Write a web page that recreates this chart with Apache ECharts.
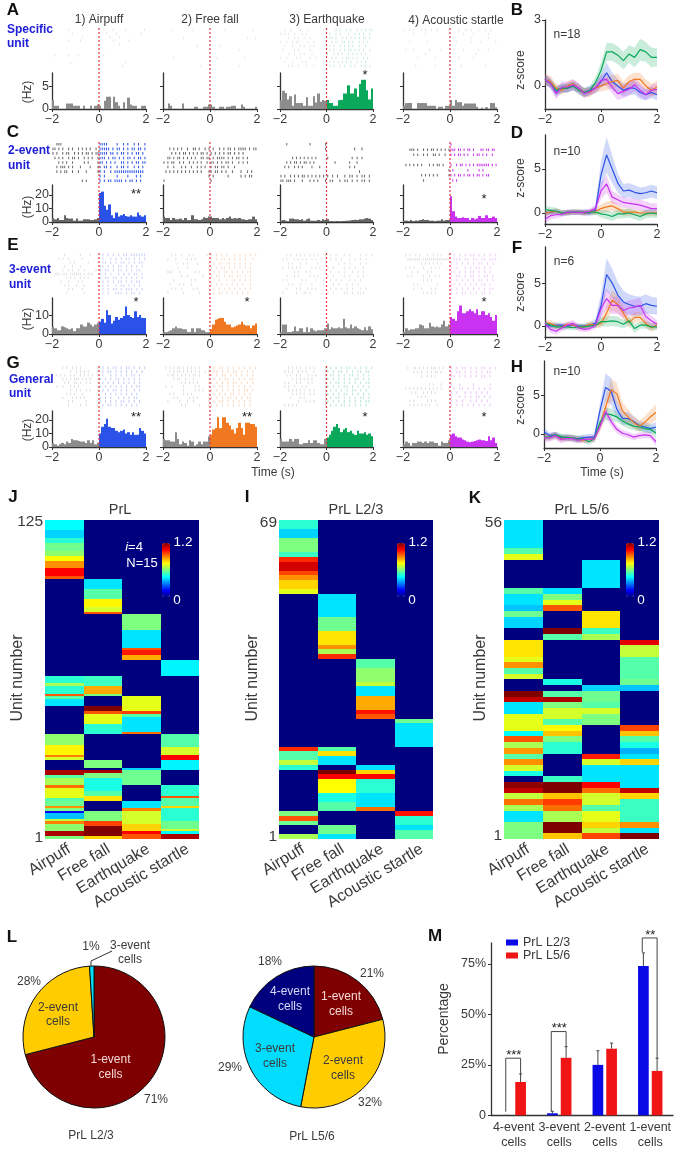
<!DOCTYPE html>
<html>
<head>
<meta charset="utf-8">
<style>html,body{margin:0;padding:0;background:#fff}</style>
<script src="https://cdn.jsdelivr.net/npm/echarts@6/dist/echarts.min.js"></script>
</head>
<body>
<div id="chart" style="width:679px;height:1151px"></div>
<script>
// firing rate per 0.1 s bin (Hz), -2 s to 2 s
const histA1 = [2,.7,.7,0,0,0,1.2,1.2,1.2,.7,.7,.7,0,.7,0,0,.7,0,.7,1, .7,0,1.8,2.7,2.7,0,2.7,1.5,.7,0,1.5,0,2.5,1,.7,.7,0,0,.7,.7];
const histA2 = [0,0,1.2,.7,0,0,0,0,1.2,0,0,0,0,.5,.5,0,0,.5,.5,1, 1,.5,0,0,.5,.5,0,.5,.5,.7,.7,0,0,1,.5,0,0,0,0,.5];
const histA3 = [1.9,4,3.5,2.1,2.8,.7,3.2,1.3,1.3,1.3,.7,2.6,.7,.7,2.8,1.4,3.4,1.6,2,1.8, 2,1.3,1.3,.7,.7,1.9,2,3.4,3.4,5.2,3.4,3.4,4.5,2.7,5.5,6.4,6.4,4.1,2.1,4.5];
const histA4 = [.7,1.3,1.3,1.3,0,0,1.3,1.3,1.3,1.3,.7,.7,.7,.7,0,.5,.5,0,.7,.7, 2,.7,2,1.5,1.5,.7,1.2,1.2,1.2,1.2,1.2,.5,0,.3,0,.4,0,1.3,1.3,.4];
const histC1 = [3,2,3,1.5,1.5,5,3,2.5,2.5,1,2.5,1,1,2,2,2,1.5,1.5,2,3, 21.5,22.5,12,9,13,5,3,7,4,5,6,4.5,4,5,4,4,7,5,4,5];
const histC2 = [4,3,3,1.5,3,2,2,2.5,1.5,3,1.5,1.5,5,2,2,1.5,2,3.5,3,4, 4,3,3,3,2,3,2,3,4,2.5,3,2.5,3,2,2,1.5,2,2,4,2];
const histC3 = [1,1.5,1,.5,2.5,2.5,2,2,1.5,2,1,2,2.5,1,1,1,1.5,1,2,1.5, 2,.5,.7,.5,.7,.5,.7,.7,1,1,1.3,1.5,1.6,1.5,2,2,2.5,3,2.5,1.5];
const histC4 = [1,1,.7,1.5,.7,1.2,1,1.5,2,1.5,1.5,1,1,.5,1,1,2,1,1.5,1.5, 19,8,4,3,3,3.5,3,3,1.5,3,2,2.5,4.5,3,3,5,3,3,4,3];
const histE1 = [4,3,2,2,4,3.5,3,2.5,3,1.5,3,3,5,4,4,6,5,4,5,6, 6.5,8,6,12.5,10,5.5,7,9,7.5,8.5,9.5,14.5,10,9,8.5,12,9,10,8.5,8.5];
const histE2 = [1,1,1.5,2,3,4,3,3,2.5,2.5,1,1,3,1,3,3,2,2,1,1, 2.5,5,7.5,8,8.5,8.5,6.5,5,5,3.5,4,4.5,5,6.5,5,4.5,4.5,3,4.5,5.5];
const histE3 = [1,5,5,1,1,1.5,4,1.5,3,3,1,3.5,1,3,2,1.5,2,2,2,3, 5.5,2.5,3.5,3,3,3.5,3,8,3.5,3,5,3,4,3,2.5,2,3.5,2,4,2.5];
const histE4 = [1,3,2,2.5,2.5,3,3,5,4.5,3,3,6,4,3.5,4,3.5,5,7,4,5, 9,8,7,12,15,11,11,12,13,12,11,13,10,12,12,10,11,9,7,10];
const histG1 = [3,2,1,2,3,2,4,3,6,5,5,4.5,4,4,3,5,3,5,2,3, 10,15,17,21,15,14,14,12,11,12,13,10,11,9,11,9,9,14,12,10];
const histG2 = [6,5,5,4,4,11,6,2,4,3,1,5,4,1,2,4,2,4,4,8, 9,13,14,22,14,22,22,18,16,13,10,14,18,14,9,18,18,17,17,15];
const histG3 = [6,4,4,4,6,4,6,6,2,2,3,3,5,3,5,5,3,2,2,6, 7,9,12,15,17,14,11,13,14,11,12,10,9,12,10,10,11,9,10,8];
const histG4 = [2,4,3,1,3,3,4,4,3,4,3,4,4,3,3,1,4,3,3,5, 9,10,8,7,7,5.5,5,4,3.5,4,4.5,5,5.5,5,5,4.5,8,5,7,3];

// spike rasters, one string per trial: 24 columns before the stimulus, the rest after it
const rasterA1 = ['........|................|..|...|.....|','..........|...............|..|.......|','...............|...........|..|','........|.....|.............|....|','..............................|','','.......................|','.|......|....|...........|','','.........|......................|','...............................|'];
const rasterA2 = ['....|..........|.............|.........|','','..........|..........................|..|','','.................|.........|','.......................|..........|','','.....|....................|.........|','','...................|..............|'];
const rasterA3 = ['..|..|....|...|.......|.....|.|..|.|..|.|.|.||','|.|.|..|...|.|.......|...|..|.|...|..|.|.|..|','....|..|.|..|..|.........||.|..|.|.|.|.|.||.|','|..|..|.||....|..|.....|..|.|..||.|.|..|.|.|','..|...|...|.|..|.|.......|.|..|.|.|.|..|..|','.|.....|.|.....|.........|.|..|.|.||.|.|.|..|','....|..|..|.|...|.......|..|.|.|..|.|.|.|.|','|..|....|.|....|..|.......|.|..|.||.|.|..|.|','..|...|....|.|........|..|.|.|.|.|.|..|.|.|','....|.|..|...|...|.......|.|..|.|..|.|..|.|.|'];
const rasterA4 = ['|..|.|...|.|..|..|.....|...|..|.|..|..|.|','.....|.....|...........|.....|...|.....|','.........................|......|......|','...|........|.............|.....|...|.....|','','.|...|.......|.....|.....|...|.....|...|','...........|...........|..........|','.......|........|..........|.....|','','......|.........|......|....|.........|'];
const rasterC1 = ['..|||...................||||....|..|.|..|.|..|','||.|.|..|.|..|.|.|.|..|.|||||.|.||.|.|.||.||.|','|.|..|.||..|.|.|.||.|.||||||.||.|.||.|.|.||.|','.|.|.|..|.||.|..|.|.|..||||.|.||.|.|.||.|.||.|','...|.|.|..|.....|.|....|||.|.|.|..||.|.|.||.||','..|.|||.|.|...|....|...||.||.|..|.||.|..|.|.|','..|.|.||..|..|...|.....||.|..|.||||||||||||||','........................|.|.....|....|...|.|.','...............|.|......|.|.||.||||.|.||.|.|'];
const rasterC2 = ['','...|.|.|.|..|..||.|..|.|.|..|.|.||.|.||||.|.||','....|.|.|.||.|.|.|.||.|.|.|.|.|.||.|.|.|..','..||.|.||.|.|.|.|..||.||.|.||||.|.|.||.|.|.','|.|.||..|.|..|.|.|.|..|.||.|.|.||.|..|.|.|','..|..|...|.|..|..|.|.|..|.||.||.|..|','.|.|.|.|.|.|.|.|.|.|...||.||.|.|..|...|..|.|','.......................|.|......|.....|.|.||','|.......................|'];
const rasterC3 = ['...|...........|.......|','.......................|...........|..|','','......|.|.|.|.|.|.|.....|.........|.|.|','...|.|.||.|.||.|.|.........|.....|..|.','..|.|..|.|.|....|...|............|.|','.....................................|','|.|..|.|.|.||.|.|.|.|.|.|.|.|..|.||.|.||.|','||.|||.|...|...|.|.|...|.||..|.||.|.|.||.|.'];
const rasterC4 = ['........................|','...|||.|..|.|.||.|.|.|.||||.||.|.||.|...||.||.||','.....|.|..|.|..||.|..|..|.|.||.|.|..|.||.|.|..|','','.|.|.|.|.|...|.|.||.|...|..|.||.|.|.|.|||||||.|.|','.......................|.|.......|.....|.|','.........|.|.|.|.|.....||.|.||.|.||.|.||.|.||','..........|..............|.|'];
const rasterE1 = ['......|.......|....|.....|.|.|.|.||.||||||','...|.|..|......|.......|.|..|.|.|.||.|.|.|','.........|.|......|....|.||.|.|.||.|.|.||','......|...|...|.........||.|.|.||.|.|.|.|','.....|..|.|..|..|.....|.|.||.|.||.|.|.||','.|||.|||.||||||.|.|||...|.|.|..|.|.|.||.|','.......|.|.|..|.|.|.....|.||.||.|.|.|.|.|','....|...|....|.|.......|.|.|.|.||.|.|.||','......|.|...|...|......|.|.|..|.||.|.|.|','........|.|....|.........|.|.||.|.|||.|.|','.......|........|........|.|..|||.|.||.|'];
const rasterE2 = ['....|.|..|...|.|......|.|.|.|.|..|.|.|.|.|','..|...|.....|.|.|......||.|.||.|.|.|.|..|','.......|..|.|....|.....|.|.||.||.|.|.|.|','.......|....|..........||.|.||.|.|.|.|.|','..|||...|.......|.|....|.|.|.||.|.|.|.||','.........|..|.......|...|.||.|.||.||.|.|','.....|........|.|......|.|.|..|.||.|.|.|','...|....|.|...|........||.|.|.|.|.|.|..|','....|.|..|.....|.|.....|.|.|.|.|.|.|.|.|','..|.......|.......|....|.|.||.|.|.|.|.|'];
const rasterE3 = ['...|.|..|.|.|..|.|.|...|.|.|..|.|...|.|.|','.|.|...|.|.|.|..|.|..|.|.|.|.|..|.|.|.|','....|.|...|..|.....|...|....|.|.|...|.|','.|..|.|.|.|.....|.|.|...|.|...|.|.|..|','.......|.|...|.|.......|.|..|.|..|.|.|','...|...|.|.....|.|.|....|.|...|.|..|.|','.|.|.......|.|....|...|..|.|.|..|.|.|','....|.|...|.....|.....|...|.|..|.|.|','...|....|.|...|.|.|......|.|.|.|.|..|.|','.|......|...||.|.....|..|.|...||.|.|||'];
const rasterE4 = ['.|.|..|.|...|..|.|.|...|.|.|.|.||.|.|.|.|','..|||||||.||||||||||||||.|||.||.||.||.|||','.........|.|.|.|.|.|....|.|.|.|.|.||.|.|','.|.|.|....|...|.|.|.....|.|..|.|.||.|.|','....|..|....|.|.........||.|.|.||.|.|.|','..|.|.....|..|..|.|.....|.||.|.||.|.||.|','..........|.|.|.........|.|.|.|.|.||.|.|','.....|.|.........|......||.|.|.|.|.||.|','.....|...|....|.|.......|.|.|.|.|.|.|.||','..........|.|.|.|.......|.|.||.|.|.||.|'];
const rasterG1 = ['.....|.|..|.|.|........|.|.|.||.|.||.|.|.|','.........|..|.|.|.|....|.|.||.|.|.|.|.|.|','..|.|.|..|.|..|.|.|.|..|.|..|.|.|.|.||.|','.....|.|.|.|||.|.|.|...||.|.|.||.|.|.|.|','......|.|..||.|..|.|...|.|.|.|.|.|.|.|.|','..|..|...|.|.|.........||.|.|.|.|.|.|.||','.........|..|.|..|.|...|.|.|.||.|.|..|.|','.......|.|.|...|.......|..|.|.|.|.|.|.|','.....|....|.|.|.|.......|.|.|..|.|.|.||','........|.|......|.....||.|.|.|.||.|.|.|','........|.....|..|.....|.|.||.|.|.|.|.|'];
const rasterG2 = ['.|.|.|.||.|.|.|.|.|....|.|.||.|.|.|.|.|.|','...|.|.||.|.|.|.|.|..|.|.||.|.|.||.|.|.|','..|.||.|.|.|.|.||.|....||.|.||.|.|.|.|.|','.....|.||..|...|.......|.|.|.||.|.|.|.||','.........|.|.|.|.|.....||.|.|.|.||.|.|.|','.|..|.....|.....|.|....|.|.||.|.|.|.|.|','..........|.....|.|.|..||.|.|.|.|.|.||.|','...|.|....|.|.|........|.|.|.|.||.|.|.|','.....|.|.....|.|.|.....||.|.|.||.|.|.||','..|.....|...|..|.......|.|.||.|.|.|.|.|','.........|.|......|....||.|.|.|.|.|.|.|'];
const rasterG3 = ['....|.|.|.|..|.|.|.....|.|.|.|.||.|.|.|.|','..|.|.|..|.|.|...|.....||.|.||.|.|.||.||','...|.|..|.|...|.|.|....|.||.|.|.||.|.|.|','......|.|.|.|.|.|......||.|.|.|.|.||.|.|','..|.|...|.|...|.|......|.|.||.|.|.|.|.||','..|.|..|...|.|.........||.|.|.||.|.|.|.|','....|.|.|.|.|..|.|.....|.|.|.|.|.||.|.|.','......|.|.|.|..|.|.....||.|.|.||.|.|.|.|','.....|....|.|..........|.|.||.|.|.|.||.|','.........|...|.|.|.....||.|.|.|.|.|.|.||','..|.|.|.|..............|.|.|.||.|.|.|.|'];
const rasterG4 = ['..|..||.|.|.|.|||.|.|...|.|.||.|.|.||.|.|','.....|.|.|..|.|.||.|....|.||.|.|.|.|.||','.........|..|.|.|.......||.|.|.|.|.||.|.','','.............|.|...|....|..|....|.....|.','.|.|.|.|.|.|.|.|.|.|...|.|.||.|.|.|.|.|.','....|.|...|.|.|.|.......|.|..|.|.|.|.|','.......|.|.|............|..|.|.|.||.|.|','...|.|......|.|.|.......|.|.|..|.|.|.|.','...|.|.|.|.|.|...|......|.|.|.|.|.|.|.|'];

// population z-score, -2 s to 2 s in 0.2 s steps
const zTime = [-2,-1.8,-1.6,-1.4,-1.2,-1,-.8,-.6,-.4,-.2,0,.2,.4,.6,.8,1,1.2,1.4,1.6,1.8,2];
const zBlueB = [.3,.1,-.3,-.1,-.1,0,-.1,-.3,-.2,-.1,.2,.6,.2,0,-.2,-.1,-.1,-.3,-.4,-.3,-.4];
const zOrangeB = [.3,.2,-.1,-.2,0,.1,-.1,-.3,-.3,-.1,0,.1,.2,.25,-.1,.2,.3,.3,0,-.2,-.05];
const zGreenB = [.3,.1,-.2,-.1,-.1,0,-.2,-.3,-.2,.15,.7,1.55,1.55,1.4,1.15,1.45,1.3,1.65,1.55,1.3,1.3];
const zPurpleB = [.3,.1,-.35,-.05,-.05,.05,-.1,-.35,-.25,-.1,.25,.3,-.05,-.35,-.25,-.15,.05,-.2,-.4,-.2,-.15];
const bandBlueB = [.2,.2,.2,.2,.2,.2,.2,.2,.2,.25,.3,.45,.4,.3,.3,.3,.3,.3,.25,.25,.25];
const bandOrangeB = [.25,.25,.2,.2,.2,.2,.2,.2,.2,.2,.25,.3,.3,.3,.3,.3,.3,.3,.3,.3,.3];
const bandGreenB = [.2,.2,.2,.2,.2,.2,.2,.2,.2,.25,.35,.4,.4,.4,.4,.4,.45,.5,.45,.45,.4];
const bandPurpleB = [.25,.25,.25,.25,.25,.25,.25,.2,.2,.2,.25,.3,.3,.3,.3,.3,.3,.3,.25,.25,.25];

const zBlueD = [0,.1,.2,0,0,.1,.1,0,0,.3,4.3,6.6,5,3.4,2.5,2.6,2.35,2.2,2.3,2.5,2.3];
const zOrangeD = [0,.1,.2,0,0,.1,.1,0,.1,.2,.5,.7,.8,.5,.1,.1,.1,0,0,0,0];
const zGreenD = [.4,.3,.2,0,.1,.1,.1,.1,.1,.1,-.1,-.2,-.4,-.1,-.1,0,-.2,-.4,-.1,0,-.1];
const zPurpleD = [-.7,-.3,-.2,-.15,.1,.1,.05,.1,.2,.5,2.5,3.3,1.8,1.5,1.2,1.1,1,.9,.7,.5,.5];
const bandBlueD = [.3,.3,.3,.3,.3,.3,.3,.3,.3,.5,1.6,2,1.6,1.1,.8,.8,.8,.7,.7,.7,.7];
const bandOrangeD = [.3,.3,.3,.3,.3,.3,.3,.3,.3,.4,.5,.6,.6,.5,.4,.4,.3,.3,.3,.3,.3];
const bandGreenD = [.4,.4,.4,.3,.3,.3,.3,.3,.3,.3,.4,.5,.5,.5,.5,.5,.5,.5,.5,.5,.5];
const bandPurpleD = [.5,.4,.4,.3,.3,.3,.3,.3,.3,.4,.9,1,.7,.6,.6,.6,.6,.6,.6,.6,.6];

const zBlueF = [.1,0,.1,.1,0,.1,0,0,.1,.3,2.3,6,5,3.6,2.8,2.5,2.3,2.3,2.6,2.4,2.3];
const zOrangeF = [.3,.3,0,-.1,.2,.1,-.1,-.1,.2,.1,.3,1.5,3,2.5,1.5,.4,1,1,.3,-.2,.1];
const zGreenF = [.3,.1,-.1,-.1,-.1,-.2,-.1,-.1,0,.1,.5,.5,.6,.5,.2,.6,-.3,.1,.1,-.1,-.1];
const zPurpleF = [.3,-.4,-.6,-.2,.1,.3,-.2,-.4,-.3,.1,2,3.2,2.4,2.4,1.8,2.1,2.2,2.4,1.1,.6,.2];
const bandBlueF = [.3,.3,.3,.3,.3,.3,.3,.3,.3,.5,1.4,1.9,1.7,1.5,1.3,1.2,1.2,1.1,1.1,1,1];
const bandOrangeF = [.4,.4,.4,.3,.3,.3,.3,.3,.4,.3,.5,1,1.2,1,.7,.6,.6,.6,.5,.5,.4];
const bandGreenF = [.3,.3,.3,.3,.3,.3,.3,.3,.3,.3,.5,.6,.6,.6,.5,.5,.5,.4,.4,.4,.4];
const bandPurpleF = [.4,.4,.4,.4,.4,.4,.4,.3,.3,.4,1,1.2,1,1,.9,.9,.9,.9,.7,.6,.5];

const zBlueH = [.3,-.2,-.1,-.5,-.4,-.5,-.6,-.5,-.4,-.4,3,6,5.5,3.2,2,2,1.6,1.1,.9,.7,.9];
const zOrangeH = [-.4,-.4,-.2,-.6,-.5,-.5,-.7,-.8,-.7,-.6,1,3.5,5.7,5.2,3,2.2,1.5,1,1.5,2.2,2.8];
const zGreenH = [-.4,-.4,-.1,-.3,-.5,-.5,-.7,-.6,-1,-.6,1.5,2.6,2.5,2.2,1.7,1.3,1,.9,.7,.6,.1];
const zPurpleH = [-.5,-.5,-.2,-.7,-.6,-.6,-.8,-.7,-.7,-.6,1,2.9,1.6,.6,.1,-.1,-.4,-.2,-.1,-.2,-1];
const bandBlueH = [.4,.4,.4,.4,.4,.4,.4,.4,.4,.4,1,1.8,1.7,1.2,.8,.8,.7,.6,.6,.6,.6];
const bandOrangeH = [.4,.4,.4,.4,.4,.4,.4,.4,.4,.4,.7,1.2,1.4,1.4,1.1,1,.8,.7,.8,.9,1];
const bandGreenH = [.4,.4,.4,.4,.4,.4,.4,.4,.4,.4,.6,.8,.8,.7,.6,.6,.5,.5,.5,.5,.5];
const bandPurpleH = [.5,.5,.5,.5,.4,.4,.4,.4,.4,.4,.6,.8,.6,.5,.4,.4,.4,.4,.4,.4,.5];

// heat map columns as [row count, value] runs, top row first
const heatNames = ['Airpuff','Free fall','Earthquake','Acoustic startle'];
const heatJ1 = [[4,.45],[3,.4],[2,.5],[3,.58],[2,.62],[2,.75],[3,.88],[3,1.05],[1,.95],[38,0],[3,.5],[1,.65],[3,.5],[1,.95],[1,.55],[3,.42],[11,0],[4,.62],[4,.76],[1,.9],[1,.7],[4,0],[2,1.15],[1,.55],[3,.65],[1,.92],[4,.72],[1,.55],[2,.58],[1,.88],[1,.6],[1,.15],[2,.38],[1,.68],[1,.9],[3,.62],[2,1.15],[1,.6]];
const heatJ2 = [[23,0],[4,.42],[4,.55],[3,.76],[2,.7],[1,.95],[24,0],[4,.52],[3,.85],[1,.6],[4,0],[2,1.2],[1,.95],[4,.72],[4,.5],[10,0],[3,.6],[1,0],[1,1.15],[2,.6],[5,.48],[2,.55],[2,.78],[4,0],[4,.6],[2,.97],[4,1.2],[1,.8]];
const heatJ3 = [[37,0],[6,.6],[7,.42],[1,.95],[2,1.02],[2,.85],[14,0],[6,.72],[1,.98],[1,.55],[6,.42],[1,.92],[13,0],[1,.4],[6,.58],[6,0],[3,.42],[1,.9],[5,.7],[3,.8],[1,1.05],[2,.95]];
const heatJ4 = [[55,0],[6,.44],[23,0],[5,.55],[3,.7],[2,1.05],[4,.44],[6,0],[4,.5],[1,.95],[3,.55],[1,.8],[5,.5],[3,.58],[1,.7],[1,.45],[2,1.15]];
const heatI1 = [[2,.5],[2,.4],[3,.6],[1,.52],[1,1],[2,1.1],[1,.97],[1,.88],[2,.8],[1,.72],[33,0],[1,1],[2,.55],[1,.68],[1,.5],[9,0],[1,.6],[1,.95],[1,.58],[2,0],[1,.65]];
const heatI2 = [[16,0],[5,.42],[3,.58],[3,.78],[1,.88],[1,.65],[1,1],[19,0],[1,.55],[1,.78],[2,.42],[1,0],[1,1.2],[1,1.05],[3,.75],[2,.48],[2,.55],[3,0],[2,.58],[1,.42]];
const heatI3 = [[30,0],[2,.55],[3,.62],[1,.68],[2,.42],[3,.85],[1,1.03],[1,.95],[10,0],[1,.42],[1,.8],[1,1.05],[3,.5],[3,.42],[1,.92],[6,0]];
const heatI4 = [[43,0],[1,.58],[5,.42],[14,0],[1,1.03],[2,.5],[1,.42],[2,.55]];
const heatK1 = [[5,.42],[1,.55],[1,.72],[5,0],[1,.55],[2,.42],[1,.38],[1,.58],[2,.4],[2,0],[3,.78],[1,.72],[1,.88],[1,.55],[1,.7],[2,0],[1,1.2],[1,1.12],[2,.42],[3,.72],[1,.45],[1,.95],[1,.65],[1,.87],[1,.55],[1,.88],[1,.7],[1,.48],[1,0],[1,1.18],[1,1.12],[1,.68],[1,.92],[1,.65],[2,.42],[3,.6]];
const heatK2 = [[12,0],[1,.42],[1,.6],[1,.72],[1,.95],[3,0],[1,1.2],[1,.55],[7,0],[1,.48],[1,0],[1,.55],[1,1.15],[1,.6],[2,.7],[1,.55],[1,.75],[1,.82],[1,.6],[2,.5],[4,0],[1,.52],[2,1.2],[1,.82],[1,.98],[1,.92],[2,.65],[2,1.2],[1,.82]];
const heatK3 = [[7,0],[5,.42],[4,0],[3,.78],[1,.52],[1,.65],[8,0],[1,.4],[2,.58],[1,.55],[1,.7],[2,.6],[5,0],[1,1.02],[1,.7],[3,.42],[1,1.05],[1,.92],[2,.7],[1,.55],[2,.72],[1,.8],[1,.68],[1,.97]];
const heatK4 = [[21,0],[1,1.08],[2,.68],[4,.55],[1,.58],[1,.38],[6,0],[1,.97],[1,.82],[1,.55],[1,.48],[1,.36],[1,.42],[1,.8],[4,.42],[1,1.12],[1,.8],[4,.52],[1,.88],[1,.42],[1,1.2]];

// cell type shares and group means
const pieNames23 = ['1-event cells','2-event cells','3-event cells'];
const pieValues23 = [71,28,1];
const pieNames56 = ['1-event cells','2-event cells','3-event cells','4-event cells'];
const pieValues56 = [21,32,29,18];
const barCats = ['4-event\ncells','3-event\ncells','2-event\ncells','1-event\ncells'];
const barL23 = [0,1,25,74];
const barL56 = [16.5,28.5,33,22];
const errL23 = [null,2,32,80.5];
const errL56 = [20.5,34,35.8,28.3];
const sigCats = [0,1,3];
const sigTop = [28.3,41.5,87.9];
const sigLeft = [1.8,1.8,81];
const sigRight = [20.5,34,28.3];
const sigStars = ['***','***','**'];

const FONT = 'Liberation Sans';
const TXT = '#3a3a3a';
const BLUE = '#2a52e8', ORANGE = '#f07820', GREEN = '#0aa85a', PURPLE = '#c832f0';
const JET = ['#00007f','#0000ff','#007fff','#00ffff','#7fff7f','#ffff00','#ff7f00','#ff0000','#7f0000'];

const grid = [], xAxis = [], yAxis = [], series = [], visualMap = [], graphic = [];

function txt(x, y, text, o) {
  o = o || {};
  graphic.push({
    type: 'text', z: 100, x: x, y: y, rotation: o.rot || 0, silent: true,
    style: {
      text: text, fill: o.fill || TXT, textAlign: o.align || 'center', textVerticalAlign: 'middle',
      font: (o.weight || 'normal') + ' ' + (o.size || 12) + 'px "' + FONT + '"', rich: o.rich
    }
  });
}

function minusLabel(v) {
  return String(v).replace('-', '\u2212');
}

function addAxes(left, right, top, bottom, x, y) {
  const i = grid.length;
  grid.push({ left: left, top: top, width: right - left, height: bottom - top });
  xAxis.push(Object.assign({ gridIndex: i }, x));
  yAxis.push(Object.assign({ gridIndex: i }, y));
  return i;
}

const axisLine = { show: true, onZero: false, lineStyle: { color: '#333', width: 1.3 } };
const axisTick = { show: true, length: 3, lineStyle: { color: '#333', width: 1 } };
const timeAxis = {
  type: 'value', min: -2, max: 2, interval: 2, splitLine: { show: false }, axisLine: axisLine, axisTick: axisTick,
  axisLabel: { fontFamily: FONT, fontSize: 12.5, color: TXT, margin: 4, hideOverlap: false, formatter: minusLabel }
};
const hiddenAxis = { show: false, splitLine: { show: false } };

// rows and columns of the raster / PSTH block
const colX = [[52,146],[163,257],[280,373],[403,497]];
const rowBlocks = [
  { rt: 28, rb: 68, ht: 73, hb: 109, ymax: 7.9, ticks: [0,5],
    hist: [histA1,histA2,histA3,histA4], raster: [rasterA1,rasterA2,rasterA3,rasterA4], post: [null,null,GREEN,null], gray: '#8c8c8c', fade: .22 },
  { rt: 142, rb: 183, ht: 185, hb: 222, ymax: 27.4, ticks: [0,10,20],
    hist: [histC1,histC2,histC3,histC4], raster: [rasterC1,rasterC2,rasterC3,rasterC4], post: [BLUE,null,null,PURPLE], gray: '#666', fade: 1 },
  { rt: 253, rb: 295, ht: 298, hb: 334, ymax: 19, ticks: [0,10],
    hist: [histE1,histE2,histE3,histE4], raster: [rasterE1,rasterE2,rasterE3,rasterE4], post: [BLUE,ORANGE,null,PURPLE], gray: '#8c8c8c', fade: .26 },
  { rt: 366, rb: 407, ht: 411, hb: 447, ymax: 26.7, ticks: [0,10,20],
    hist: [histG1,histG2,histG3,histG4], raster: [rasterG1,rasterG2,rasterG3,rasterG4], post: [BLUE,ORANGE,GREEN,PURPLE], gray: '#8c8c8c', fade: .3 }
];

function renderBin(params, api) {
  const a = api.coord([api.value(0), api.value(2)]);
  const b = api.coord([api.value(1), 0]);
  const x0 = Math.round(a[0]), x1 = Math.round(b[0]);
  return {
    type: 'rect', shape: { x: x0, y: a[1], width: x1 - x0, height: b[1] - a[1] },
    style: { fill: api.value(0) < -.001 ? params.context.gray : params.context.post }
  };
}

rowBlocks.forEach(function (row) {
  colX.forEach(function (cx, c) {
    const post = row.post[c] || row.gray;
    const gray = row.gray;
    // spikes and stimulus line share one grid running down to the PSTH baseline
    const rows = row.raster[c];
    const n = 12;
    const top = n * (row.hb - row.rt) / (row.rb - row.rt);
    const g1 = addAxes(cx[0], cx[1], row.rt, row.hb,
      Object.assign({}, hiddenAxis, { type: 'value', min: -2, max: 2 }),
      Object.assign({}, hiddenAxis, { type: 'value', min: 0, max: top, inverse: true }));
    const spikes = [];
    const longest = Math.max.apply(null, rows.map(function (s) { return s.length; }));
    rows.forEach(function (s, r) {
      const step = n / rows.length;
      for (let k = 0; k < s.length; k++) {
        if (s[k] !== '|') continue;
        const t = k < 24 ? -2 + (k + .5) / 12 : (k - 24 + .5) * 2 / (longest - 24);
        spikes.push([t, (r + .5) * step]);
      }
    });
    series.push({
      type: 'scatter', xAxisIndex: g1, yAxisIndex: g1, data: spikes, symbol: 'rect', symbolSize: [1, 2.6], silent: true,
      itemStyle: { opacity: row.fade, color: function (p) { return p.value[0] < 0 ? gray : post; } }
    });
    const g2 = addAxes(cx[0], cx[1], row.ht, row.hb,
      Object.assign({}, timeAxis),
      {
        type: 'value', min: 0, max: row.ymax, splitLine: { show: false }, axisLine: axisLine,
        axisTick: Object.assign({}, axisTick, { customValues: row.ticks }),
        axisLabel: { show: c === 0, customValues: row.ticks, fontFamily: FONT, fontSize: 12.5, color: TXT, margin: 3 }
      });
    const bins = row.hist[c].map(function (v, i) { return [-2 + i * .1, -1.9 + i * .1, v]; });
    series.push({
      type: 'custom', xAxisIndex: g2, yAxisIndex: g2, data: bins, silent: true, encode: { x: [0, 1], y: 2 },
      renderItem: function (params, api) {
        params.context.gray = gray;
        params.context.post = post;
        return renderBin(params, api);
      }
    });
    series.push({
      type: 'line', xAxisIndex: g1, yAxisIndex: g1, data: [[0,0],[0,top]], symbol: 'none', silent: true, z: 5,
      lineStyle: { color: '#e8343a', width: 1.2, type: [2,2] }
    });
  });
});

// z-score panels
function bandSeries(g, mean, half, color) {
  series.push({
    type: 'custom', xAxisIndex: g, yAxisIndex: g, silent: true,
    data: zTime.map(function (t, i) { return [t, mean[i] - half[i], mean[i] + half[i]]; }),
    encode: { x: 0, y: [1, 2] },
    renderItem: function (params, api) {
      if (params.dataIndex !== 0) return null;
      const up = [], down = [];
      zTime.forEach(function (t, i) {
        up.push(api.coord([t, mean[i] + half[i]]));
        down.unshift(api.coord([t, mean[i] - half[i]]));
      });
      return { type: 'polygon', shape: { points: up.concat(down) }, style: { fill: color, opacity: .22 } };
    }
  });
  series.push({
    type: 'line', xAxisIndex: g, yAxisIndex: g, data: zTime.map(function (t, i) { return [t, mean[i]]; }),
    symbol: 'none', silent: true, lineStyle: { color: color, width: 1.2 }
  });
}

const zPanels = [
  { l: 545, r: 657, t: 20, b: 109, min: -1.05, max: 3, ticks: [0,3],
    m: [zBlueB,zOrangeB,zGreenB,zPurpleB], h: [bandBlueB,bandOrangeB,bandGreenB,bandPurpleB] },
  { l: 545, r: 657, t: 135, b: 224, min: -1.25, max: 8.86, ticks: [0,5],
    m: [zBlueD,zOrangeD,zGreenD,zPurpleD], h: [bandBlueD,bandOrangeD,bandGreenD,bandPurpleD] },
  { l: 545, r: 657, t: 247, b: 337, min: -1.28, max: 9.2, ticks: [0,5],
    m: [zBlueF,zOrangeF,zGreenF,zPurpleF], h: [bandBlueF,bandOrangeF,bandGreenF,bandPurpleF] },
  { l: 544, r: 656, t: 361, b: 448, min: -1.8, max: 9.4, ticks: [0,5],
    m: [zBlueH,zOrangeH,zGreenH,zPurpleH], h: [bandBlueH,bandOrangeH,bandGreenH,bandPurpleH] }
];
zPanels.forEach(function (p) {
  const g = addAxes(p.l, p.r, p.t, p.b, Object.assign({}, timeAxis), {
    type: 'value', min: p.min, max: p.max, splitLine: { show: false }, axisLine: axisLine,
    axisTick: Object.assign({}, axisTick, { customValues: p.ticks }),
    axisLabel: { customValues: p.ticks, fontFamily: FONT, fontSize: 12.5, color: TXT, margin: 4 }
  });
  [BLUE, ORANGE, GREEN, PURPLE].forEach(function (color, i) {
    bandSeries(g, p.m[i], p.h[i], color);
  });
});

// heat maps
function expandRuns(runs) {
  const out = [];
  runs.forEach(function (r) { for (let i = 0; i < r[0]; i++) out.push(r[1]); });
  return out;
}

const heatPanels = [
  { l: 45, r: 199, total: 125, cols: [heatJ1,heatJ2,heatJ3,heatJ4], bar: 162 },
  { l: 279, r: 433, total: 69, cols: [heatI1,heatI2,heatI3,heatI4], bar: 397 },
  { l: 504, r: 659, total: 56, cols: [heatK1,heatK2,heatK3,heatK4], bar: 626 }
];
heatPanels.forEach(function (p) {
  const labels = [];
  for (let i = p.total; i >= 1; i--) labels.push(String(i));
  const g = addAxes(p.l, p.r, 520, 839, {
    type: 'category', data: heatNames, axisLine: { show: false }, axisTick: { show: false }, axisLabel: { show: false }
  }, {
    type: 'category', data: labels, inverse: true, axisLine: { show: false }, axisTick: { show: false },
    axisLabel: {
      interval: function (i) { return i === 0 || i === p.total - 1; },
      fontFamily: FONT, fontSize: 15.5, color: TXT, margin: 2
    }
  });
  const cells = [];
  p.cols.forEach(function (runs, c) {
    expandRuns(runs).forEach(function (v, r) { cells.push([c, r, v]); });
  });
  series.push({
    type: 'custom', xAxisIndex: g, yAxisIndex: g, data: cells, silent: true, encode: { x: 0, y: 1 },
    renderItem: function (params, api) {
      const c = api.coord([api.value(0), api.value(1)]);
      const s = api.size([1, 1]);
      const x0 = Math.round(c[0] - s[0] / 2), x1 = Math.round(c[0] + s[0] / 2);
      const y0 = Math.round(c[1] - s[1] / 2), y1 = Math.round(c[1] + s[1] / 2);
      return { type: 'rect', shape: { x: x0, y: y0, width: x1 - x0, height: y1 - y0 }, style: { fill: api.visual('color') } };
    }
  });
  visualMap.push({
    type: 'continuous', min: 0, max: 1.2, dimension: 2, seriesIndex: series.length - 1, left: p.bar, top: 543, padding: 0,
    itemWidth: 8, itemHeight: 54, calculable: false, hoverLink: false, text: ['', ''],
    inRange: { color: JET }, textStyle: { fontSize: 1 }
  });
  txt(p.bar + 21, 542, '1.2', { fill: '#fff', size: 13.5 });
  txt(p.bar + 15, 600, '0', { fill: '#fff', size: 13.5 });
  const w = (p.r - p.l) / 4;
  heatNames.forEach(function (name, c) {
    txt(p.l + w * (c + .5) + 5 + c, 848, name, { size: 16, align: 'right', rot: 31 * Math.PI / 180 });
  });
});

// pies
function addPie(cx, cy, names, values, colors) {
  series.push({
    type: 'pie', center: [cx, cy], radius: 71, startAngle: 90, silent: true, label: { show: false }, labelLine: { show: false },
    data: names.map(function (n, i) {
      return { name: n, value: values[i], itemStyle: { color: colors[i], borderColor: '#111', borderWidth: 1 } };
    })
  });
}
addPie(94, 1037, pieNames23, pieValues23, ['#7f0000','#ffcc00','#00ddff']);
addPie(314, 1037, pieNames56, pieValues56, ['#7f0000','#ffcc00','#00ddff','#00007f']);

// grouped bars
const gM = addAxes(491, 673, 943, 1115.3, {
  type: 'category', data: barCats, axisLine: axisLine, axisTick: { show: false },
  axisLabel: { interval: 0, fontFamily: FONT, fontSize: 12.5, color: TXT, margin: 5, lineHeight: 15 }
}, {
  type: 'value', min: 0, max: 85.4, splitLine: { show: false }, axisLine: axisLine,
  axisTick: Object.assign({}, axisTick, { customValues: [0,25,50,75] }),
  axisLabel: {
    customValues: [0,25,50,75], fontFamily: FONT, fontSize: 12.5, color: TXT, margin: 5,
    formatter: function (v) { return v === 0 ? '0' : v + '%'; }
  }
});
series.push({ name: 'PrL L2/3', type: 'bar', xAxisIndex: gM, yAxisIndex: gM, data: barL23, barWidth: 10.7, barGap: '28%', silent: true, itemStyle: { color: '#0a0ae6' } });
series.push({ name: 'PrL L5/6', type: 'bar', xAxisIndex: gM, yAxisIndex: gM, data: barL56, barWidth: 10.7, silent: true, itemStyle: { color: '#f01414' } });

function errorSeries(tops, bars, shift) {
  series.push({
    type: 'custom', xAxisIndex: gM, yAxisIndex: gM, silent: true, z: 3,
    data: tops.map(function (v, i) { return [i, v === null ? bars[i] : v, bars[i]]; }),
    encode: { x: 0, y: 1 },
    renderItem: function (params, api) {
      const a = api.coord([api.value(0), api.value(1)]);
      const b = api.coord([api.value(0), api.value(2)]);
      const x = a[0] + shift;
      const ln = { stroke: '#444', lineWidth: 1 };
      return {
        type: 'group', children: [
          { type: 'line', shape: { x1: x, y1: a[1], x2: x, y2: b[1] }, style: ln },
          { type: 'line', shape: { x1: x - 1.5, y1: a[1], x2: x + 1.5, y2: a[1] }, style: ln }
        ]
      };
    }
  });
}
errorSeries(errL23, barL23, -6.85);
errorSeries(errL56, barL56, 6.85);

series.push({
  type: 'custom', xAxisIndex: gM, yAxisIndex: gM, silent: true, z: 4, clip: false,
  data: sigCats.map(function (c, i) { return [c, sigTop[i], sigLeft[i], sigRight[i], i]; }),
  encode: { x: 0, y: 1 },
  renderItem: function (params, api) {
    const c = api.value(0);
    const top = api.coord([c, api.value(1)]);
    const x1 = top[0] - 8, x2 = top[0] + 6.85;
    const yl = api.coord([c, api.value(2)])[1], yr = api.coord([c, api.value(3)])[1];
    return {
      type: 'group', children: [
        { type: 'polyline', shape: { points: [[x1, yl],[x1, top[1]],[x2, top[1]],[x2, yr]] }, style: { stroke: '#444', fill: 'none', lineWidth: 1 } },
        { type: 'text', style: { text: sigStars[api.value(4)], x: top[0], y: top[1] - 3, textAlign: 'center', textVerticalAlign: 'middle', fill: '#222', font: '13px "' + FONT + '"' } }
      ]
    };
  }
});

// panel letters
[['A',13,10],['C',13,132],['E',13,245],['G',13,363],['B',517,10],['D',517,133],['F',517,248],['H',517,367],['J',13,497],['I',247,497],['K',475,498],['L',12,937],['M',435,936]].forEach(function (a) {
  txt(a[1], a[2], a[0], { size: 17, weight: 'bold', fill: '#111' });
});
// unit classes
[['Specific',7,30],['unit',7,44],['2-event',8,151],['unit',8,166],['3-event',9,270],['unit',9,285],['General',9,380],['unit',9,394]].forEach(function (a) {
  txt(a[1], a[2], a[0], { size: 12, weight: 'bold', fill: '#2020d8', align: 'left' });
});
// column heads
txt(99, 20, '1) Airpuff');
txt(210, 20, '2) Free fall');
txt(327, 20, '3) Earthquake');
txt(456, 21, '4) Acoustic startle');
// axis names
[92, 207, 319, 430].forEach(function (y) { txt(28, y, '(Hz)', { rot: Math.PI / 2 }); });
[70, 178, 292, 405].forEach(function (y) { txt(521, y, 'z-score', { rot: Math.PI / 2 }); });
txt(273, 473, 'Time (s)');
txt(602, 473, 'Time (s)');
txt(18, 678, 'Unit number', { rot: Math.PI / 2, size: 16 });
txt(253, 678, 'Unit number', { rot: Math.PI / 2, size: 16 });
txt(481, 678, 'Unit number', { rot: Math.PI / 2, size: 16 });
txt(444, 1019, 'Percentage', { rot: Math.PI / 2, size: 14 });
// n labels
txt(567, 35, 'n=18');
txt(567, 152, 'n=10');
txt(564, 262, 'n=6');
txt(567, 372, 'n=10');
// significance marks
[['*',365,75],['**',136,194],['*',484,199],['*',136,302],['*',247,302],['*',484,302],['**',136,417],['**',247,417],['*',365,417],['*',484,417]].forEach(function (a) {
  txt(a[1], a[2], a[0], { fill: '#222', size: 13 });
});
// heat map heads
txt(120, 510, 'PrL', { size: 14.5 });
txt(356, 510, 'PrL L2/3', { size: 14.5 });
txt(582, 510, 'PrL L5/6', { size: 14.5 });
txt(134, 547, '{i|i}=4', { fill: '#fff', size: 13, rich: { i: { fontStyle: 'italic', fill: '#fff', font: 'italic 13px "' + FONT + '"' } } });
txt(142, 563, 'N=15', { fill: '#fff', size: 13 });
// pie annotations
txt(91, 947, '1%');
txt(130, 946, '3-event');
txt(130, 960, 'cells');
txt(29, 982, '28%');
txt(156, 1100, '71%');
txt(58, 1008, '2-event');
txt(58, 1022, 'cells');
txt(110.5, 1060, '1-event', { fill: '#f4d8d8' });
txt(110.5, 1075, 'cells', { fill: '#f4d8d8' });
txt(91, 1136, 'PrL L2/3');
txt(270, 962, '18%');
txt(372, 974, '21%');
txt(290, 992, '4-event', { fill: '#d8d8f4' });
txt(290, 1007, 'cells', { fill: '#d8d8f4' });
txt(341, 997, '1-event', { fill: '#f4d8d8' });
txt(341, 1012, 'cells', { fill: '#f4d8d8' });
txt(275, 1049, '3-event');
txt(275, 1064, 'cells');
txt(343, 1061, '2-event');
txt(343, 1076, 'cells');
txt(230, 1068, '29%');
txt(370, 1103, '32%');
txt(312, 1137, 'PrL L5/6');
graphic.push({
  type: 'polyline', z: 100, silent: true,
  shape: { points: [[91,967],[91,961],[112,951]] }, style: { stroke: '#333', fill: 'none', lineWidth: 1 }
});

const myChart = echarts.init(document.getElementById('chart'), null, { renderer: 'canvas' });
myChart.setOption({
  animation: false,
  backgroundColor: '#fff',
  textStyle: { fontFamily: FONT },
  legend: {
    data: ['PrL L2/3','PrL L5/6'], left: 506, top: 936, orient: 'vertical', itemWidth: 12, itemHeight: 6, itemGap: 0, padding: 0,
    selectedMode: false, icon: 'rect', textStyle: { fontFamily: FONT, fontSize: 12.5, color: TXT }
  },
  grid: grid,
  xAxis: xAxis,
  yAxis: yAxis,
  visualMap: visualMap,
  series: series,
  graphic: graphic
});
window.addEventListener('resize', myChart.resize);
</script>
</body>
</html>
